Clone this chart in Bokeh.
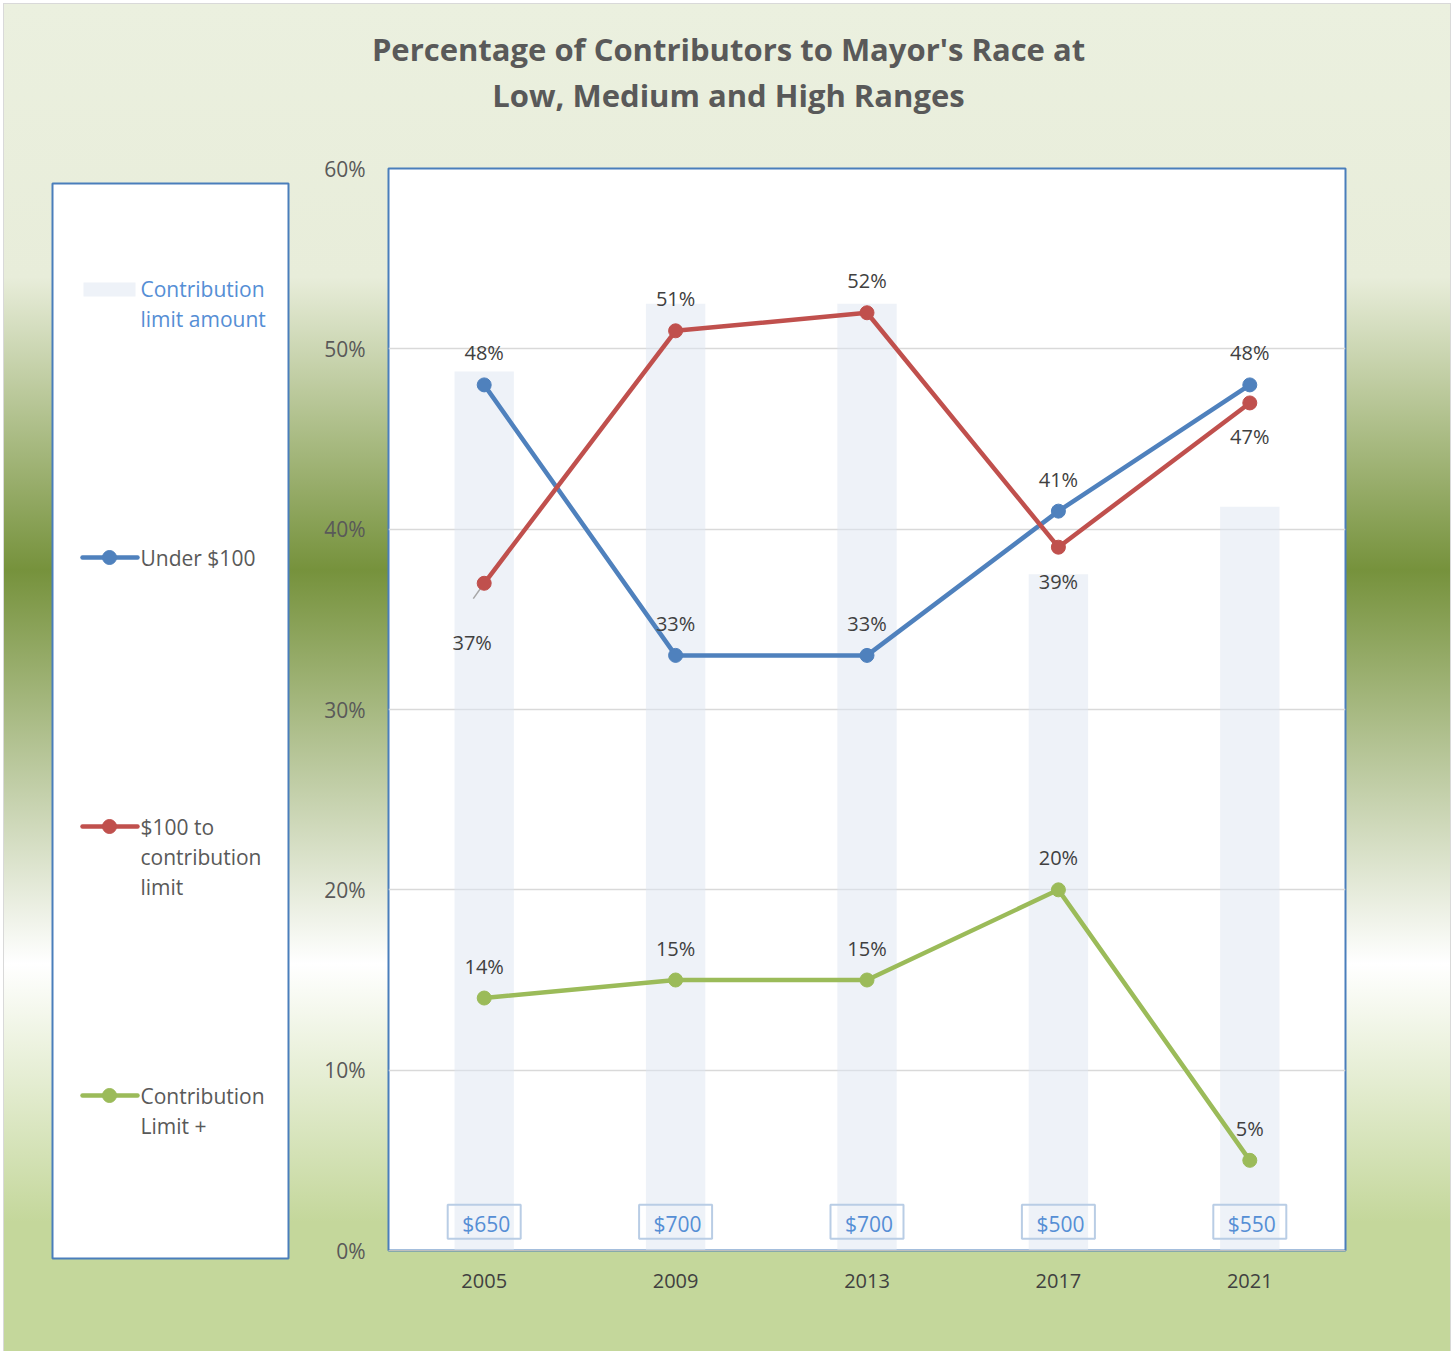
from bokeh.plotting import figure
from bokeh.layouts import column, row
from bokeh.models import Range1d, FixedTicker, PrintfTickFormatter
from bokeh.core.properties import value
from bokeh.embed import file_html
from bokeh.resources import INLINE

# ---------------- data ----------------
years = ["2005", "2009", "2013", "2017", "2021"]
under_100 = [48, 33, 33, 41, 48]
mid_range = [37, 51, 52, 39, 47]
limit_plus = [14, 15, 15, 20, 5]
limit_amount = [650, 700, 700, 500, 550]
limit_labels = ["$650", "$700", "$700", "$500", "$550"]
y_ticks = [0, 10, 20, 30, 40, 50, 60]
series_names = ["Under $100", "$100 to\ncontribution\nlimit", "Contribution\nLimit +"]
bar_name = "Contribution\nlimit amount"
title_lines = ["Percentage of Contributors to Mayor's Race at", "Low, Medium and High Ranges"]

# ---------------- styles ----------------
FONT = value("Open Sans")
BLUE, RED, GREEN = "#4F81BD", "#C0504D", "#9BBB59"
colors = [BLUE, RED, GREEN]
series = [under_100, mid_range, limit_plus]
ABOVE, BELOW = -32, 34
label_dy = [
    [ABOVE] * 5,
    [59, ABOVE, ABOVE, BELOW, BELOW],
    [ABOVE] * 5,
]
label_dx = [
    [0] * 5,
    [-12, 0, 0, 0, 0],
    [0] * 5,
]

xs = list(range(len(years)))

# ---------------- title ----------------
tf = figure(width=1446, height=140, x_range=Range1d(0, 1446), y_range=Range1d(140, 0),
            x_axis_type=None, y_axis_type=None, min_border=0,
            output_backend="svg", toolbar_location=None)
tf.outline_line_color = None
tf.background_fill_color = None
tf.border_fill_color = None
tf.grid.visible = False
tf.text(x=[724, 724], y=[44, 90], text=title_lines, text_font=FONT, text_font_style="bold",
        text_font_size="31px", text_color="#595959", text_align="center", text_baseline="middle")

# ---------------- legend panel ----------------
lg = figure(width=296, height=1197, x_range=Range1d(0, 236), y_range=Range1d(1075, 0),
            x_axis_type=None, y_axis_type=None,
            min_border_left=48, min_border_right=12, min_border_top=24, min_border_bottom=98,
            output_backend="svg", toolbar_location=None, margin=(15, 0, 0, 0))
lg.grid.visible = False
lg.background_fill_color = "white"
lg.border_fill_color = None
lg.outline_line_color = "#4A7EBB"
lg.outline_line_width = 2

lg.quad(left=[31], right=[83], top=[99], bottom=[113], fill_color="#DDE6F1", fill_alpha=0.5, line_color=None)
bl = bar_name.split("\n")
lg.text(x=[88] * len(bl), y=[105 + 30 * i for i in range(len(bl))], text=bl, text_font=FONT,
        text_font_size="21px", text_color="#558ED5", text_align="left", text_baseline="middle")

item_y = [374, 643, 912]
for name, c, yy in zip(series_names, colors, item_y):
    lg.line(x=[30, 85], y=[yy, yy], line_color=c, line_width=4.5, line_cap="round")
    lg.scatter(x=[57], y=[yy], size=14, fill_color=c, line_color=c)
    lines = name.split("\n")
    lg.text(x=[88] * len(lines), y=[yy + 30 * i for i in range(len(lines))], text=lines,
            text_font=FONT, text_font_size="21px", text_color="#595959",
            text_align="left", text_baseline="middle")

# ---------------- main chart ----------------
p = figure(width=1150, height=1204, x_range=Range1d(-0.5, len(years) - 0.5), y_range=Range1d(0, 60),
           min_border_left=88, min_border_right=105, min_border_top=24, min_border_bottom=98,
           output_backend="svg", toolbar_location=None)
p.extra_y_ranges = {"amt": Range1d(0, 800)}
p.background_fill_color = "white"
p.border_fill_color = None
p.outline_line_color = "#4A7EBB"
p.outline_line_width = 2

p.xgrid.visible = False
p.ygrid.ticker = FixedTicker(ticks=y_ticks)
p.ygrid.grid_line_color = "#D9D9D9"
p.ygrid.grid_line_width = 1.5

# bars: contribution limit amount (secondary scale 0-800)
p.vbar(x=xs, top=limit_amount, width=0.31, bottom=0, y_range_name="amt",
       fill_color="#DDE6F1", fill_alpha=0.5, line_color=None)

# bar value labels in boxes
p.rect(x=xs, y=[1.6] * len(xs), width=73, height=34, width_units="screen", height_units="screen",
       fill_color=None, line_color="#B9CDE5", line_width=2)
p.text(x=xs, y=[1.6] * len(xs), text=limit_labels, x_offset=2, y_offset=2, text_font=FONT,
       text_font_size="21px", text_color="#558ED5", text_align="center", text_baseline="middle")

# leader line for the offset 2005 label of the red series
p.segment(x0=[xs[0]], y0=[mid_range[0]], x1=[xs[0] - 0.057], y1=[mid_range[0] - 0.85],
          line_color="#A6A6A6", line_width=1.5)

for vals, c, dys, dxs in zip(series, colors, label_dy, label_dx):
    p.line(x=xs, y=vals, line_color=c, line_width=4.5, line_join="round", line_cap="round")
    p.scatter(x=xs, y=vals, size=14, fill_color=c, line_color=c)
    p.text(x=xs, y=vals, text=[f"{v}%" for v in vals], x_offset=dxs, y_offset=dys,
           text_font=FONT, text_font_size="20px", text_color="#404040",
           text_align="center", text_baseline="middle")

p.yaxis.ticker = FixedTicker(ticks=y_ticks)
p.yaxis.formatter = PrintfTickFormatter(format="%d%%")
p.yaxis.axis_line_color = None
p.yaxis.major_tick_line_color = None
p.yaxis.minor_tick_line_color = None
p.yaxis.major_label_text_font = "Open Sans"
p.yaxis.major_label_text_font_size = "21px"
p.yaxis.major_label_text_color = "#595959"
p.yaxis.major_label_standoff = 17

p.xaxis.ticker = FixedTicker(ticks=xs)
p.xaxis.major_label_overrides = {i: y for i, y in enumerate(years)}
p.xaxis.axis_line_color = "#BFBFBF"
p.xaxis.axis_line_width = 1
p.xaxis.major_tick_line_color = None
p.xaxis.minor_tick_line_color = None
p.xaxis.major_label_text_font = "Open Sans"
p.xaxis.major_label_text_font_size = "20px"
p.xaxis.major_label_text_color = "#404040"
p.xaxis.major_label_standoff = 17

gradient = ("linear-gradient(to bottom, #EBF0DF 0px, #E8EDDA 273px, #76923C 566px, "
            "#FFFFFF 960px, #C4D79B 1218px, #C4D79B 100%)")
layout = column(tf, row(lg, p), margin=(4, 0, 0, 4),
                styles={"background": gradient, "outline": "1px solid #D9D9D9"})

open("out.html", "w").write(file_html(layout, INLINE))
